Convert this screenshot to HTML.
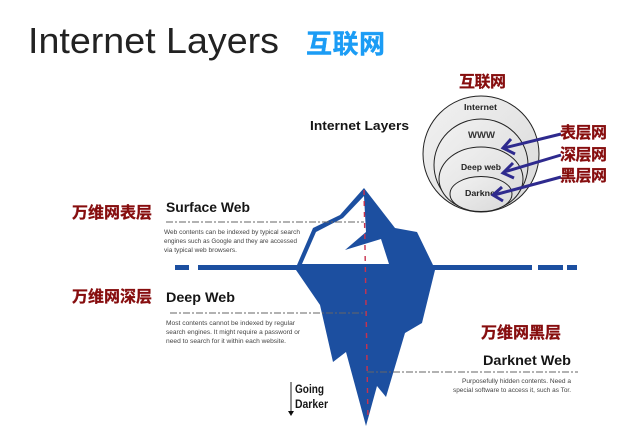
<!DOCTYPE html>
<html>
<head>
<meta charset="utf-8">
<style>
html,body{margin:0;padding:0;background:#fff}
svg{display:block}
text{font-family:"Liberation Sans","Noto Sans CJK SC",sans-serif}
.r{font-weight:700;fill:#860a0e;stroke:#860a0e;stroke-width:.3px;font-size:16px}
.h{font-weight:700;fill:#151515}
.b{fill:#444;font-size:6.8px}
.d{fill:none;stroke:#666;stroke-width:1;stroke-dasharray:7 2 2 2}
</style>
</head>
<body>
<svg width="641" height="441" viewBox="0 0 641 441" xmlns="http://www.w3.org/2000/svg">
<defs>
<linearGradient id="g" x1="0" y1="0" x2="1" y2="1">
<stop offset="0" stop-color="#f2f2f2"/><stop offset="1" stop-color="#d9d9d9"/>
</linearGradient>
<filter id="s" x="0" y="0" width="100%" height="100%"><feGaussianBlur stdDeviation="0.35"/></filter>
</defs>
<g filter="url(#s)">
<text x="28" y="53" font-size="36" fill="#222" textLength="251" lengthAdjust="spacingAndGlyphs">Internet Layers</text>
<text x="306" y="53" font-size="26" font-weight="700" fill="#1a9cf5" stroke="#1a9cf5" stroke-width=".4" textLength="79">互联网</text>
<text x="310" y="130" font-size="13" class="h" textLength="99" lengthAdjust="spacingAndGlyphs">Internet Layers</text>

<!-- waterline -->
<rect x="175" y="265" width="14" height="5" fill="#1f50a0"/>
<rect x="198" y="265" width="100" height="5" fill="#1f50a0"/>
<rect x="430" y="265" width="102" height="5" fill="#1f50a0"/>
<rect x="538" y="265" width="25" height="5" fill="#1f50a0"/>
<rect x="567" y="265" width="10" height="5" fill="#1f50a0"/>

<!-- iceberg -->
<polygon fill="#1f50a0" points="364,188 395,228 417,232 433,265 435,270 422,323 405,333 386,397 377,386 366,426 346,352 333,362 320,305 296,270 297,265 313,228 340,215"/>
<polygon fill="#fff" points="364,196 366,232 345,250 381,239 389,264 302,264 316,232 343,218"/>

<!-- red axis -->
<line x1="364" y1="190" x2="368" y2="420" stroke="#c8324e" stroke-width="1.4" stroke-dasharray="5 6"/>

<!-- leader lines -->
<path class="d" d="M166 222H364"/>
<path class="d" d="M170 313H366" />
<path class="d" d="M367 372H578"/>

<!-- left labels -->
<text x="72" y="218" class="r">万维网表层</text>
<text x="72" y="302" class="r">万维网深层</text>
<text x="481" y="338" class="r">万维网黑层</text>

<text x="166" y="212" font-size="14" class="h" textLength="84" lengthAdjust="spacingAndGlyphs">Surface Web</text>
<text x="166" y="302" font-size="14" class="h" textLength="69" lengthAdjust="spacingAndGlyphs">Deep Web</text>
<text x="483" y="365" font-size="14" class="h" textLength="88" lengthAdjust="spacingAndGlyphs">Darknet Web</text>

<text x="164" y="234" class="b" textLength="136" lengthAdjust="spacingAndGlyphs">Web contents can be indexed by typical search</text>
<text x="164" y="243" class="b" textLength="133" lengthAdjust="spacingAndGlyphs">engines such as Google and they are accessed</text>
<text x="164" y="252" class="b" textLength="73" lengthAdjust="spacingAndGlyphs">via typical web browsers.</text>

<text x="166" y="325" class="b" textLength="129" lengthAdjust="spacingAndGlyphs">Most contents cannot be indexed by regular</text>
<text x="166" y="334" class="b" textLength="134" lengthAdjust="spacingAndGlyphs">search engines. It might require a password or</text>
<text x="166" y="343" class="b" textLength="120" lengthAdjust="spacingAndGlyphs">need to search for it within each website.</text>

<text x="462" y="383" class="b" textLength="109" lengthAdjust="spacingAndGlyphs">Purposefully hidden contents. Need a</text>
<text x="453" y="392" class="b" textLength="118" lengthAdjust="spacingAndGlyphs">special software to access it, such as Tor.</text>

<!-- going darker -->
<line x1="291" y1="382" x2="291" y2="412" stroke="#222" stroke-width="1"/>
<polygon points="288,411 294,411 291,416" fill="#111"/>
<text x="295" y="393" font-size="11.5" class="h" textLength="29" lengthAdjust="spacingAndGlyphs">Going</text>
<text x="295" y="408" font-size="11.5" class="h" textLength="33" lengthAdjust="spacingAndGlyphs">Darker</text>

<!-- circles -->
<text x="459" y="87" class="r" textLength="47">互联网</text>
<circle cx="481" cy="154" r="58" fill="url(#g)" stroke="#222" stroke-width="1"/>
<ellipse cx="481" cy="165" rx="47" ry="46" fill="url(#g)" stroke="#222" stroke-width="1"/>
<ellipse cx="481" cy="179" rx="42" ry="32" fill="url(#g)" stroke="#222" stroke-width="1"/>
<ellipse cx="481" cy="194" rx="31" ry="17.5" fill="url(#g)" stroke="#222" stroke-width="1"/>
<text x="464" y="110" font-size="8.5" fill="#222" font-weight="700" textLength="33" lengthAdjust="spacingAndGlyphs">Internet</text>
<text x="468" y="138" font-size="9" fill="#333" font-weight="700" textLength="27" lengthAdjust="spacingAndGlyphs">WWW</text>
<text x="461" y="170" font-size="8.5" fill="#222" font-weight="700" textLength="40" lengthAdjust="spacingAndGlyphs">Deep web</text>
<text x="465" y="196" font-size="8.5" fill="#222" font-weight="700" textLength="30" lengthAdjust="spacingAndGlyphs">Darkne</text>

<!-- arrows -->
<g fill="none" stroke="#2f2a8e" stroke-width="3">
<path d="M561 134L504 148"/><path d="M511 139L503 148L515 154"/>
<path d="M561 155L504 172"/><path d="M513 163L503 173L514 178"/>
<path d="M561 177L494 195"/><path d="M502 187L493 195L503 201"/>
</g>
<text x="560" y="138" class="r" textLength="47">表层网</text>
<text x="560" y="160" class="r" textLength="47">深层网</text>
<text x="560" y="181" class="r" textLength="47">黑层网</text>
</g>
</svg>
</body>
</html>
